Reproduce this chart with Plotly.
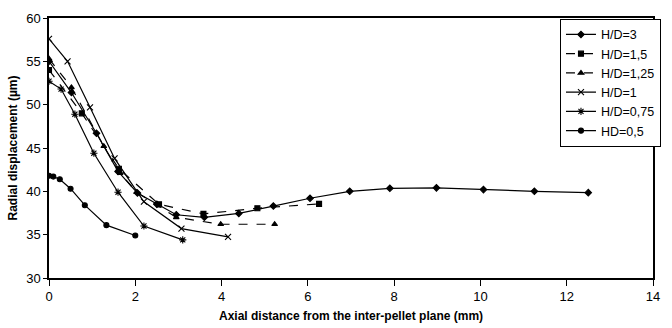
import plotly.graph_objects as go

# H/D=3
x_hd3 = [0, 0.52, 1.1, 1.6, 2.05, 2.5, 2.95, 3.6, 4.4, 5.2, 6.05, 6.97, 7.9, 8.98, 10.07, 11.25, 12.5]
y_hd3 = [55.0, 51.4, 46.7, 42.3, 39.8, 38.5, 37.3, 37.0, 37.45, 38.3, 39.2, 40.0, 40.35, 40.4, 40.2, 40.0, 39.85]
# H/D=1,5
x_hd15 = [0, 0.76, 1.62, 2.55, 3.58, 4.83, 6.26]
y_hd15 = [54.0, 49.0, 42.6, 38.5, 37.4, 38.05, 38.55]
# H/D=1,25
x_hd125 = [0, 0.52, 1.27, 1.65, 2.03, 2.95, 3.98, 5.23]
y_hd125 = [55.3, 52.0, 45.2, 42.1, 39.9, 37.0, 36.2, 36.2]
# H/D=1
x_hd1 = [0, 0.43, 0.95, 1.52, 2.2, 3.07, 4.15]
y_hd1 = [57.6, 55.0, 49.7, 43.8, 38.8, 35.7, 34.75]
# H/D=0,75
x_hd075 = [0, 0.28, 0.6, 1.04, 1.6, 2.2, 3.1]
y_hd075 = [52.7, 51.8, 48.9, 44.4, 39.9, 36.0, 34.4]
# HD=0,5
x_hd05 = [0, 0.1, 0.25, 0.5, 0.83, 1.33, 2.0]
y_hd05 = [41.8, 41.7, 41.4, 40.3, 38.4, 36.1, 34.9]

series_names = ["H/D=3", "H/D=1,5", "H/D=1,25", "H/D=1", "H/D=0,75", "HD=0,5"]
x_ticks = [0, 2, 4, 6, 8, 10, 12, 14]
y_ticks = [30, 35, 40, 45, 50, 55, 60]
x_title = "Axial distance from the inter-pellet plane (mm)"
y_title = "Radial displacement (µm)"

styles = [
    dict(symbol="diamond", size=5, dash="solid"),
    dict(symbol="square", size=5, dash="dash"),
    dict(symbol="triangle-up", size=5, dash="dash"),
    dict(symbol="x-thin-open", size=6, dash="solid"),
    dict(symbol="asterisk-open", size=6, dash="solid"),
    dict(symbol="circle", size=5, dash="solid"),
]
data = [(x_hd3, y_hd3), (x_hd15, y_hd15), (x_hd125, y_hd125),
        (x_hd1, y_hd1), (x_hd075, y_hd075), (x_hd05, y_hd05)]

fig = go.Figure()
for name, (xs, ys), st in zip(series_names, data, styles):
    fig.add_trace(go.Scatter(
        x=xs, y=ys, name=name, mode="lines+markers",
        line=dict(color="black", width=1.2, dash=st["dash"]),
        marker=dict(symbol=st["symbol"], size=st["size"], color="black",
                    line=dict(color="black", width=1.1)),
    ))

font_family = "Liberation Sans, Arial, sans-serif"
fig.update_layout(
    width=672, height=328,
    margin=dict(l=49, r=11, t=12, b=50),
    plot_bgcolor="white", paper_bgcolor="white",
    font=dict(family=font_family, size=12, color="black"),
    showlegend=True,
    legend=dict(x=0.846, y=0.997, xanchor="left", yanchor="top",
                bgcolor="white", bordercolor="black", borderwidth=1,
                font=dict(size=12.5), itemwidth=30, tracegroupgap=0,
                itemsizing="trace"),
    xaxis=dict(range=[0, 14], tickvals=x_ticks, ticks="outside", ticklen=6,
               tickwidth=1, tickcolor="black", automargin=False,
               showline=True, linecolor="black", linewidth=1.5, mirror=True,
               showgrid=False, zeroline=False,
               tickfont=dict(size=13)),
    yaxis=dict(range=[30, 60], tickvals=y_ticks, ticks="outside", ticklen=4,
               tickwidth=1, tickcolor="black",
               showline=True, linecolor="black", linewidth=1.5, mirror=True,
               showgrid=False, zeroline=False,
               title=dict(text="<b>" + y_title + "</b>",
                          font=dict(size=12), standoff=6),
               tickfont=dict(size=13)),
    annotations=[dict(text="<b>" + x_title + "</b>", xref="paper", yref="paper",
                      x=0.5, y=-0.147, xanchor="center", yanchor="middle",
                      showarrow=False, font=dict(size=12))],
)

fig.write_html("out.html")
